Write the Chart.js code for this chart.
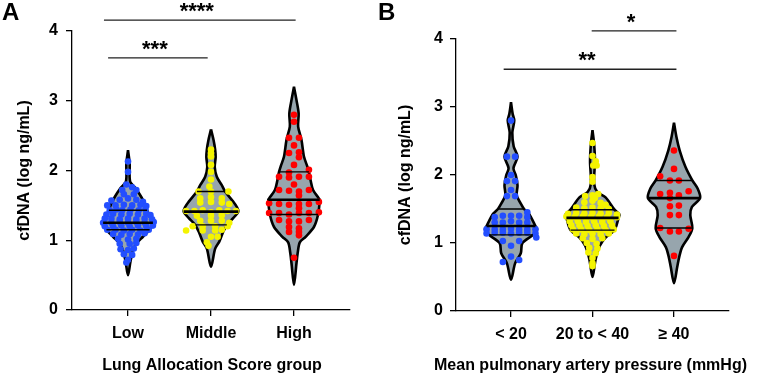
<!DOCTYPE html>
<html>
<head>
<meta charset="utf-8">
<script src="https://cdn.jsdelivr.net/npm/chart.js@4/dist/chart.umd.min.js"></script>
<style>
  html, body { margin: 0; padding: 0; background: #fff; }
  #wrap { position: relative; width: 767px; height: 377px; }
  #canvas-a { position: absolute; left: 0; top: 0; }
  #canvas-b { position: absolute; left: 375px; top: 0; }
</style>
</head>
<body>
<div id="wrap">
  <canvas id="canvas-a" width="375" height="377"></canvas>
  <canvas id="canvas-b" width="392" height="377"></canvas>
</div>
<script>
// ---- data ----
const lasGroups = ['Low', 'Middle', 'High']
const mpapGroups = ['< 20', '20 to < 40', '≥ 40']
const yTicks = [0, 1, 2, 3, 4]

// violin outlines, top to bottom: [cfDNA, half width]
const lasLowShape = [[2.29, 0], [2.10, 0.02], [1.84, 0.025], [1.75, 0.09], [1.62, 0.16], [1.50, 0.21], [1.43, 0.23], [1.32, 0.28], [1.25, 0.30], [1.15, 0.26], [1.05, 0.18], [0.95, 0.10], [0.85, 0.06], [0.70, 0.03], [0.50, 0]]
const lasMidShape = [[2.59, 0], [2.44, 0.03], [2.30, 0.05], [2.19, 0.056], [2.05, 0.045], [1.91, 0.07], [1.79, 0.13], [1.70, 0.17], [1.55, 0.27], [1.48, 0.31], [1.41, 0.33], [1.32, 0.27], [1.22, 0.19], [1.10, 0.14], [0.98, 0.10], [0.88, 0.05], [0.62, 0]]
const lasHighShape = [[3.20, 0], [3.01, 0.03], [2.82, 0.056], [2.63, 0.05], [2.44, 0.09], [2.20, 0.12], [2.06, 0.16], [1.98, 0.18], [1.86, 0.20], [1.72, 0.23], [1.60, 0.30], [1.58, 0.31], [1.37, 0.29], [1.19, 0.24], [1.05, 0.14], [0.97, 0.07], [0.82, 0.045], [0.67, 0.03], [0.36, 0]]
const mpapLowShape = [[3.07, 0], [2.90, 0.02], [2.80, 0.04], [2.62, 0.016], [2.42, 0.033], [2.27, 0.08], [2.10, 0.03], [1.99, 0.06], [1.85, 0.08], [1.70, 0.07], [1.58, 0.12], [1.50, 0.16], [1.43, 0.22], [1.25, 0.30], [1.20, 0.32], [1.12, 0.27], [1.00, 0.14], [0.85, 0.12], [0.70, 0.05], [0.46, 0]]
const mpapMidShape = [[2.66, 0], [2.45, 0.02], [2.20, 0.03], [1.87, 0.02], [1.75, 0.06], [1.67, 0.16], [1.49, 0.27], [1.42, 0.33], [1.37, 0.32], [1.19, 0.27], [1.08, 0.16], [0.96, 0.09], [0.77, 0.04], [0.50, 0]]
const mpapHighShape = [[2.77, 0], [2.56, 0.03], [2.36, 0.07], [2.12, 0.14], [1.92, 0.225], [1.80, 0.29], [1.66, 0.32], [1.53, 0.22], [1.41, 0.20], [1.22, 0.225], [1.09, 0.18], [0.94, 0.10], [0.80, 0.065], [0.65, 0.04], [0.41, 0]]

// medians / quartiles and their half widths
const lasMedian = [1.25, 1.41, 1.58]
const lasMedianW = [0.30, 0.33, 0.31]
const lasQ1 = [1.15, 1.22, 1.37]
const lasQ1W = [0.26, 0.19, 0.29]
const lasQ3 = [1.43, 1.70, 1.98]
const lasQ3W = [0.23, 0.17, 0.18]
const mpapMedian = [1.25, 1.37, 1.66]
const mpapMedianW = [0.30, 0.32, 0.32]
const mpapQ1 = [1.12, 1.19, 1.22]
const mpapQ1W = [0.27, 0.27, 0.225]
const mpapQ3 = [1.50, 1.49, 1.92]
const mpapQ3W = [0.16, 0.27, 0.225]

// individual patients: [offset from group centre, cfDNA]
const lasLowPts = [[0, 2.13], [0, 1.98], [-0.02, 1.80], [0.05, 1.76], [-0.07, 1.72], [0.1, 1.72], [-0.05, 1.66], [0.07, 1.66],
  [-0.2, 1.57], [-0.1, 1.58], [0, 1.60], [0.1, 1.58], [0.18, 1.55],
  [-0.25, 1.50], [-0.15, 1.50], [-0.05, 1.51], [0.05, 1.50], [0.15, 1.51], [0.22, 1.49],
  [-0.22, 1.43], [-0.14, 1.44], [-0.07, 1.43], [0.03, 1.44], [0.13, 1.43], [0.21, 1.44],
  [-0.26, 1.37], [-0.18, 1.38], [-0.08, 1.37], [0.02, 1.38], [0.12, 1.37], [0.22, 1.38], [0.27, 1.36],
  [-0.28, 1.31], [-0.2, 1.31], [-0.1, 1.30], [0, 1.31], [0.1, 1.30], [0.2, 1.31], [0.29, 1.30],
  [-0.3, 1.25], [-0.2, 1.25], [-0.1, 1.26], [0, 1.25], [0.1, 1.26], [0.2, 1.25], [0.31, 1.26],
  [-0.28, 1.20], [-0.18, 1.20], [-0.08, 1.21], [0.02, 1.20], [0.12, 1.21], [0.22, 1.20], [0.3, 1.21],
  [-0.25, 1.15], [-0.15, 1.15], [-0.05, 1.14], [0.05, 1.15], [0.15, 1.14], [0.25, 1.15],
  [-0.18, 1.09], [-0.08, 1.08], [0.02, 1.09], [0.12, 1.08], [0.2, 1.10],
  [-0.12, 1.02], [0, 1.01], [0.1, 1.02],
  [-0.1, 0.95], [0.02, 0.95], [0.1, 0.96],
  [-0.09, 0.87], [0, 0.86], [0.07, 0.88],
  [-0.05, 0.80], [0.05, 0.79], [0, 0.72], [-0.02, 0.68]]
const lasMidPts = [[0, 2.30], [0, 2.25], [0, 2.20], [0, 2.08], [0, 1.98], [0, 1.87], [-0.02, 1.77],
  [-0.15, 1.70], [0, 1.70], [0.21, 1.70],
  [-0.13, 1.60], [0, 1.62], [0.13, 1.60],
  [-0.13, 1.54], [0, 1.55], [0.13, 1.54], [0.22, 1.52],
  [-0.3, 1.42], [-0.2, 1.42], [-0.1, 1.43], [0, 1.40], [0.1, 1.43], [0.2, 1.42], [0.3, 1.42],
  [-0.17, 1.35], [0, 1.35], [0.13, 1.36],
  [-0.13, 1.28], [0, 1.28], [0.13, 1.28], [0.22, 1.25],
  [-0.22, 1.20], [-0.1, 1.20], [0.05, 1.20], [0.2, 1.20],
  [-0.3, 1.14], [-0.1, 1.14], [0.05, 1.14], [0.13, 1.15],
  [0, 1.05], [0.08, 1.05], [-0.05, 0.97], [-0.03, 0.92]]
const lasHighPts = [[0, 2.80], [0, 2.70], [-0.06, 2.47], [0.06, 2.47], [0, 2.36], [-0.06, 2.25], [0.06, 2.26], [0.06, 2.19], [0, 2.08], [0.18, 2.01], [-0.06, 1.97],
  [-0.18, 1.91], [-0.06, 1.90], [0.06, 1.91], [0.18, 1.91], [0, 1.80],
  [-0.18, 1.72], [-0.06, 1.71], [0.06, 1.70], [0.18, 1.72], [0.06, 1.64],
  [-0.3, 1.53], [-0.18, 1.52], [-0.06, 1.51], [0.06, 1.52], [0.18, 1.52], [0.3, 1.55], [0.06, 1.46],
  [-0.3, 1.39], [-0.18, 1.39], [-0.06, 1.37], [0.06, 1.39], [0.18, 1.39], [0.3, 1.40],
  [-0.18, 1.29], [-0.06, 1.27], [0.06, 1.27], [0.18, 1.29],
  [-0.06, 1.19], [0.06, 1.17], [-0.06, 1.12], [0.06, 1.12], [0.06, 1.07], [0, 0.75]]
const mpapLowPts = [[0, 2.80], [-0.05, 2.27], [0.05, 2.27], [0, 2.00], [-0.05, 1.91], [0.05, 1.91], [0, 1.78], [-0.05, 1.69], [0.05, 1.69],
  [-0.1, 1.40], [0, 1.40], [0.1, 1.40], [0.2, 1.45], [0.2, 1.38], [-0.2, 1.38],
  [-0.2, 1.30], [-0.1, 1.30], [0, 1.32], [0.1, 1.30], [0.2, 1.30],
  [-0.3, 1.20], [-0.2, 1.20], [-0.1, 1.20], [0, 1.21], [0.1, 1.20], [0.2, 1.20], [0.3, 1.20],
  [-0.3, 1.14], [-0.2, 1.15], [-0.1, 1.15], [0, 1.14], [0.1, 1.15], [0.2, 1.15], [0.3, 1.14],
  [0.31, 1.08], [-0.1, 1.03], [0.1, 1.03], [0, 0.96], [0, 0.80], [0.1, 0.75], [-0.1, 0.72]]
const mpapMidPts = [[0, 2.47], [0, 2.28], [0.04, 2.20], [0.01, 2.14], [0.05, 2.14], [0, 1.97], [0, 1.90],
  [0.07, 1.72], [-0.09, 1.69], [0, 1.70], [0.03, 1.66],
  [-0.1, 1.60], [0, 1.62], [0.1, 1.59], [0.16, 1.56],
  [-0.2, 1.52], [-0.1, 1.51], [0, 1.52], [0.1, 1.51], [0.2, 1.50],
  [-0.3, 1.43], [-0.2, 1.44], [-0.1, 1.43], [0, 1.44], [0.1, 1.43], [0.2, 1.44], [0.3, 1.42],
  [-0.32, 1.39], [-0.22, 1.38], [-0.12, 1.39], [-0.02, 1.38], [0.08, 1.39], [0.18, 1.38], [0.3, 1.38],
  [-0.28, 1.32], [-0.18, 1.32], [-0.08, 1.31], [0.02, 1.32], [0.12, 1.31], [0.22, 1.32],
  [-0.26, 1.26], [-0.16, 1.26], [-0.06, 1.25], [0.04, 1.26], [0.14, 1.25], [0.24, 1.26],
  [-0.24, 1.20], [-0.14, 1.20], [-0.04, 1.19], [0.06, 1.20], [0.16, 1.19], [0.26, 1.20],
  [-0.2, 1.14], [-0.1, 1.13], [0, 1.14], [0.1, 1.13], [0.2, 1.14],
  [-0.12, 1.07], [0, 1.06], [0.12, 1.07],
  [-0.07, 1.00], [0.05, 0.99], [-0.04, 0.93], [0.06, 0.92],
  [-0.05, 0.86], [0.04, 0.85], [0, 0.78], [0, 0.70], [0, 0.66]]
const mpapHighPts = [[0, 2.36], [0, 2.09], [-0.17, 1.98], [-0.05, 1.92], [0.06, 1.92], [0.18, 1.76], [-0.17, 1.72], [-0.05, 1.74], [0.06, 1.70],
  [-0.05, 1.66], [-0.05, 1.54], [0.06, 1.55], [-0.05, 1.41], [0.06, 1.41],
  [-0.17, 1.22], [-0.05, 1.17], [0.06, 1.17], [0.18, 1.21], [0, 0.81]]

// significance brackets
const lasSigLabels = ['***', '****']
const lasSigFrom = [-0.24, -0.29]
const lasSigTo = [0.96, 2.02]
const lasSigAt = [3.615, 4.155]
const mpapSigLabels = ['**', '*']
const mpapSigFrom = [-0.09, 0.99]
const mpapSigTo = [2.03, 2.03]
const mpapSigAt = [3.555, 4.12]

// ---- drawing ----
const FONT = '"Liberation Sans", Arial, Helvetica, sans-serif'
Chart.defaults.font.family = FONT
Chart.defaults.color = '#000'

const violinFill = 'rgb(151, 165, 173)'
const groupColors = ['rgb(35, 78, 255)', 'rgb(244, 244, 0)', 'rgb(255, 0, 0)']

function violinOutline(center, shape) {
  const left = shape.map(([y, w]) => ({ x: center - w, y }))
  const right = shape.slice().reverse().map(([y, w]) => ({ x: center + w, y }))
  return left.concat(right.slice(1))
}

function hLines(levels, widths) {
  const out = []
  levels.forEach((v, i) => {
    out.push({ x: i - widths[i], y: v }, { x: i + widths[i], y: v }, { x: i, y: null })
  })
  return out
}

function sigLines(from, to, at) {
  const out = []
  at.forEach((v, i) => {
    out.push({ x: from[i], y: v }, { x: to[i], y: v }, { x: from[i], y: null })
  })
  return out
}

// panel letter, star labels and the x title (the built-in title squeezes long text)
const panelText = {
  id: 'panelText',
  afterDraw(chart, args, opts) {
    const { ctx, chartArea } = chart
    const x = chart.scales.x
    const y = chart.scales.y
    ctx.save()
    ctx.fillStyle = '#000'
    ctx.textBaseline = 'alphabetic'
    ctx.textAlign = 'left'
    ctx.font = 'bold 24px ' + FONT
    ctx.fillText(opts.letter, opts.letterX, 20)
    ctx.font = 'bold 22px ' + FONT
    ctx.textAlign = 'center'
    opts.labels.forEach((label, i) => {
      const px = (x.getPixelForValue(opts.from[i]) + x.getPixelForValue(opts.to[i])) / 2
      ctx.fillText(label, px - 3, y.getPixelForValue(opts.at[i]) - 2)
    })
    ctx.font = 'bold 16px ' + FONT
    ctx.textBaseline = 'middle'
    ctx.fillText(opts.xTitle, (chartArea.left + chartArea.right) / 2 + opts.xTitleShift, 366)
    ctx.restore()
  }
}

function makeDatasets(shapes, points, median, medianW, q1, q1W, q3, q3W, from, to, at) {
  const sets = []
  shapes.forEach((shape, i) => {
    sets.push({
      data: violinOutline(i, shape),
      borderColor: '#000',
      borderWidth: 2.6,
      backgroundColor: violinFill,
      fill: 'shape',
      tension: 0.3,
      pointRadius: 0,
      order: 5
    })
  })
  points.forEach((pts, i) => {
    sets.push({
      data: pts.map(([dx, v]) => ({ x: i + dx, y: v })),
      showLine: false,
      pointRadius: 3.3,
      pointBorderWidth: 0,
      pointBackgroundColor: groupColors[i],
      order: 4
    })
  })
  sets.push({ data: hLines(q1, q1W), borderColor: '#000', borderWidth: 1.4, pointRadius: 0, spanGaps: false, order: 2 })
  sets.push({ data: hLines(q3, q3W), borderColor: '#000', borderWidth: 1.4, pointRadius: 0, spanGaps: false, order: 2 })
  sets.push({ data: hLines(median, medianW), borderColor: '#000', borderWidth: 2.6, pointRadius: 0, spanGaps: false, order: 1 })
  sets.push({ data: sigLines(from, to, at), borderColor: '#222', borderWidth: 1.3, pointRadius: 0, spanGaps: false, clip: false, order: 0 })
  return sets
}

function makeOptions(groups, yWidth, xHeight, yTitlePad, yTickPad, padding, text) {
  return {
    responsive: false,
    animation: false,
    events: [],
    layout: { padding },
    plugins: { legend: { display: false }, tooltip: { enabled: false }, panelText: text },
    scales: {
      x: {
        type: 'linear',
        min: -0.675,
        max: 2.675,
        afterBuildTicks: s => { s.ticks = groups.map((g, i) => ({ value: i })) },
        afterFit: s => { s.height = xHeight },
        ticks: {
          callback: (v, i) => groups[i],
          autoSkip: false,
          maxRotation: 0,
          padding: 8,
          color: '#000',
          font: { size: 16, weight: 'bold' }
        },
        grid: { drawOnChartArea: false, drawTicks: true, tickLength: 6, color: '#000', lineWidth: 1.3 },
        border: { display: true, color: '#000', width: 1.3 }
      },
      y: {
        min: 0,
        max: 4,
        afterBuildTicks: s => { s.ticks = yTicks.map(v => ({ value: v })) },
        afterFit: s => { s.width = yWidth },
        ticks: { padding: yTickPad, color: '#000', font: { size: 16, weight: 'bold' } },
        grid: { drawOnChartArea: false, drawTicks: true, tickLength: 6, color: '#000', lineWidth: 1.3 },
        border: { display: true, color: '#000', width: 1.3 },
        title: { display: true, text: 'cfDNA (log ng/mL)', color: '#000', font: { size: 16, weight: 'bold' }, padding: { top: yTitlePad, bottom: 0 } }
      }
    }
  }
}

new Chart(document.getElementById('canvas-a'), {
  type: 'line',
  data: {
    datasets: makeDatasets([lasLowShape, lasMidShape, lasHighShape], [lasLowPts, lasMidPts, lasHighPts],
      lasMedian, lasMedianW, lasQ1, lasQ1W, lasQ3, lasQ3W, lasSigFrom, lasSigTo, lasSigAt)
  },
  options: makeOptions(lasGroups, 72, 67, 15, 8,
    { top: 31, right: 25, left: 0, bottom: 0 },
    { letter: 'A', letterX: 2, labels: lasSigLabels, from: lasSigFrom, to: lasSigTo, at: lasSigAt,
      xTitle: 'Lung Allocation Score group', xTitleShift: 1 }),
  plugins: [panelText]
})

new Chart(document.getElementById('canvas-b'), {
  type: 'line',
  data: {
    datasets: makeDatasets([mpapLowShape, mpapMidShape, mpapHighShape], [mpapLowPts, mpapMidPts, mpapHighPts],
      mpapMedian, mpapMedianW, mpapQ1, mpapQ1W, mpapQ3, mpapQ3W, mpapSigFrom, mpapSigTo, mpapSigAt)
  },
  options: makeOptions(mpapGroups, 81, 66, 21, 7,
    { top: 39, right: 38, left: 0, bottom: 0 },
    { letter: 'B', letterX: 3, labels: mpapSigLabels, from: mpapSigFrom, to: mpapSigTo, at: mpapSigAt,
      xTitle: 'Mean pulmonary artery pressure (mmHg)', xTitleShift: -2 }),
  plugins: [panelText]
})
</script>
</body>
</html>
